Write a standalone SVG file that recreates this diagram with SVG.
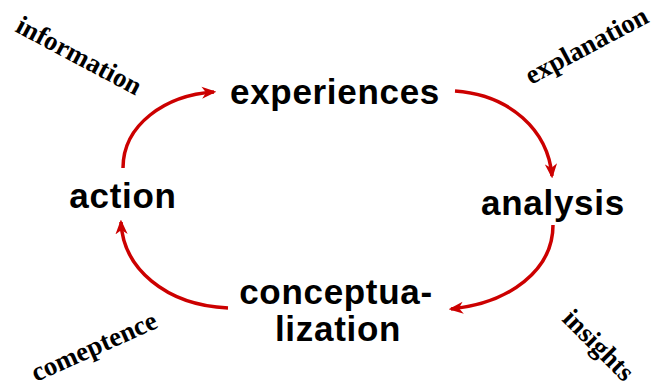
<svg xmlns="http://www.w3.org/2000/svg" width="653" height="388" viewBox="0 0 653 388">
  <style>
    .stage { font-family: "Liberation Sans", Arial, sans-serif; font-weight: bold; font-size: 35px; fill: #000; text-anchor: middle; letter-spacing: 0.7px; }
    .flow { font-family: "Liberation Serif", "Times New Roman", serif; font-weight: bold; font-size: 27px; fill: #000; }
    .link { fill: none; stroke: #cc0000; stroke-width: 3.5; marker-end: url(#head); }
  </style>
  <defs>
    <marker id="head" viewBox="0 0 12 10" refX="10" refY="5" markerWidth="4.2" markerHeight="3.6" orient="auto" markerUnits="strokeWidth">
      <path d="M0,0 L12,5 L0,10 L3.5,5 z" fill="#cc0000"/>
    </marker>
  </defs>

  <g id="connectors">
    <path class="link" d="M123,168 C123,125 165,95 214,92"/>
    <path class="link" d="M455,91 C510,95 548,130 552,176"/>
    <path class="link" d="M553,225 C553,270 510,303 451,309"/>
    <path class="link" d="M228,308 C165,305 123,268 121,222"/>
  </g>

  <g id="experiences"><text class="stage" x="335" y="104">experiences</text></g>
  <g id="analysis"><text class="stage" x="553" y="215">analysis</text></g>
  <g id="conceptualization">
    <text class="stage" x="336" y="304">conceptua-</text>
    <text class="stage" x="338" y="341">lization</text>
  </g>
  <g id="action"><text class="stage" x="123" y="208">action</text></g>

  <g id="information"><text class="flow" transform="translate(14,31) rotate(28)">information</text></g>
  <g id="explanation"><text class="flow" transform="translate(531,85) rotate(-28)">explanation</text></g>
  <g id="comeptence"><text class="flow" transform="translate(36,382) rotate(-24)">comeptence</text></g>
  <g id="insights"><text class="flow" transform="translate(561,320) rotate(45)">insights</text></g>
</svg>
